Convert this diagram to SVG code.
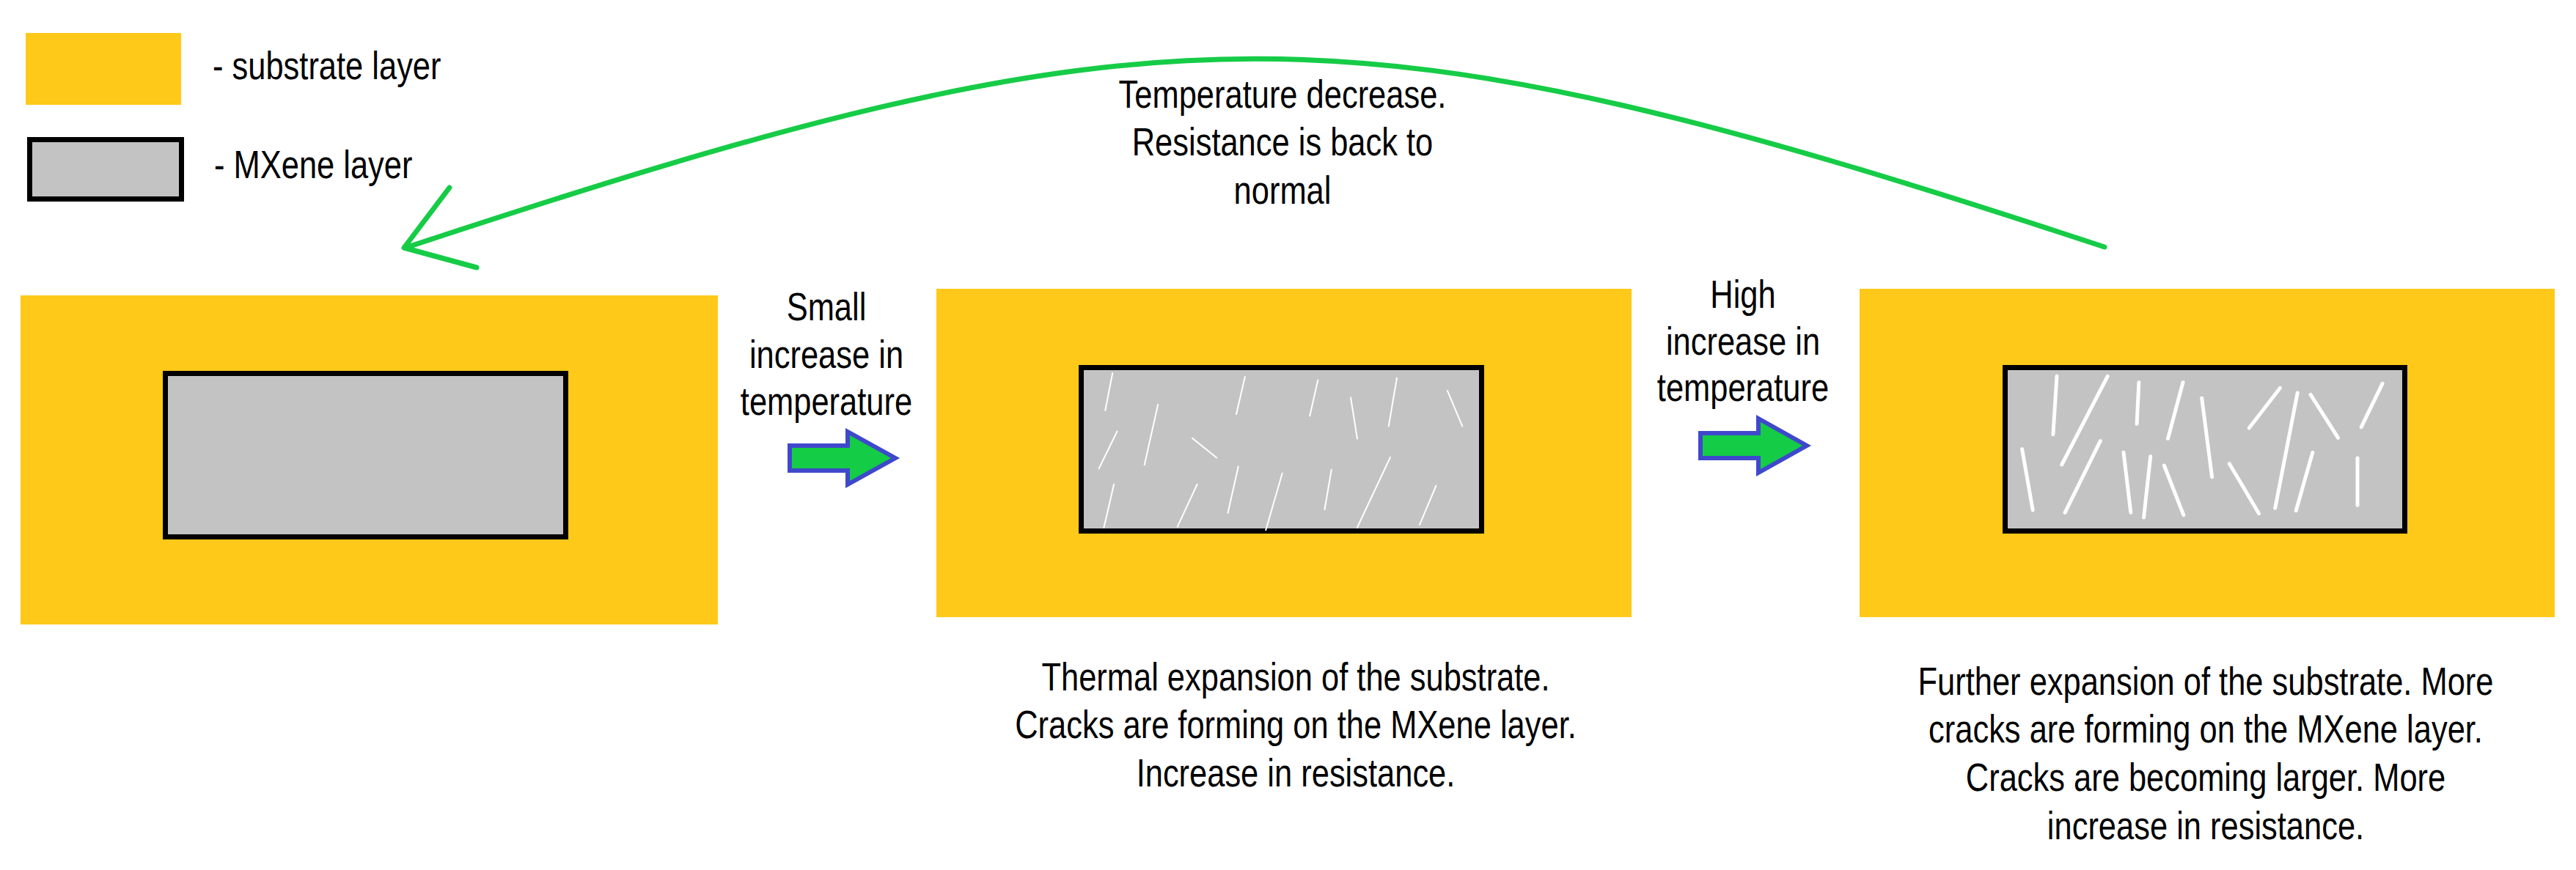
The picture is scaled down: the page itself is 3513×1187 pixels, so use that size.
<svg xmlns="http://www.w3.org/2000/svg" width="3513" height="1187" viewBox="0 0 3513 1187">
<defs>
<style>
.sub{fill:#fec918}
.mx{fill:#c3c3c3;stroke:#000;stroke-width:7}
.t{font-family:"Liberation Sans",Arial,sans-serif;font-size:53px;fill:#000}
.c{text-anchor:middle}
.ck1{stroke:#fff;stroke-width:2;fill:none}
.ck2{stroke:#fff;stroke-width:5;stroke-linecap:round;fill:none}
.blk{fill:#14cc46;stroke:#3f48cc;stroke-width:6;stroke-linejoin:miter}
.ret{fill:none;stroke:#16cc47;stroke-width:7;stroke-linecap:round;stroke-linejoin:round}
</style>
</defs>
<rect width="3513" height="1187" fill="#fff"/>

<g id="legend">
<rect class="sub" x="35" y="45" width="212" height="98"/>
<rect class="mx" x="40.5" y="190.5" width="207" height="81"/>
<g transform="translate(290,0) scale(0.82,1)"><text class="t" x="0" y="108">- substrate layer</text></g>
<g transform="translate(292,0) scale(0.82,1)"><text class="t" x="0" y="243">- MXene layer</text></g>
</g>

<g id="state1">
<rect class="sub" x="28" y="403" width="951" height="449"/>
<rect class="mx" x="225.5" y="509.5" width="546" height="223"/>
</g>

<g id="state2">
<rect class="sub" x="1277" y="394" width="948" height="448"/>
<rect class="mx" x="1474.5" y="501.5" width="546" height="223"/>
<g class="ck1">
<line x1="1517.4" y1="508.3" x2="1507.1" y2="560.7"/>
<line x1="1579.4" y1="551" x2="1560.6" y2="635"/>
<line x1="1523.9" y1="587.7" x2="1498.3" y2="640"/>
<line x1="1625.3" y1="597.3" x2="1659.8" y2="625"/>
<line x1="1698" y1="513.3" x2="1685.8" y2="566"/>
<line x1="1797.5" y1="517.7" x2="1786" y2="568.3"/>
<line x1="1841.9" y1="541.7" x2="1851.1" y2="599.3"/>
<line x1="1905.1" y1="515" x2="1893.6" y2="582.3"/>
<line x1="1973.6" y1="532.3" x2="1994.6" y2="582.3"/>
<line x1="1519.3" y1="660" x2="1505.2" y2="720.7"/>
<line x1="1633" y1="660" x2="1605.4" y2="719.3"/>
<line x1="1688.9" y1="635.7" x2="1674.3" y2="700.7"/>
<line x1="1748.9" y1="645" x2="1726" y2="724"/>
<line x1="1815.9" y1="640" x2="1806.3" y2="696"/>
<line x1="1896.3" y1="623.3" x2="1850.4" y2="720.7"/>
<line x1="1958.7" y1="662" x2="1935.7" y2="716.7"/>
</g>
<g transform="translate(1767,0) scale(0.82,1)">
<text class="t c" x="0" y="942">Thermal expansion of the substrate.</text>
<text class="t c" x="0" y="1007">Cracks are forming on the MXene layer.</text>
<text class="t c" x="0" y="1073">Increase in resistance.</text>
</g>
</g>

<g id="state3">
<rect class="sub" x="2536" y="394" width="948" height="448"/>
<rect class="mx" x="2734.5" y="501.5" width="545" height="223"/>
<g class="ck2">
<line x1="2805" y1="513.3" x2="2799.9" y2="592.7"/>
<line x1="2874.2" y1="513.3" x2="2811.7" y2="634"/>
<line x1="2757.6" y1="612.7" x2="2772.2" y2="696"/>
<line x1="2864.3" y1="601.7" x2="2816.1" y2="699.3"/>
<line x1="2916.9" y1="521.7" x2="2914.1" y2="578.3"/>
<line x1="2977" y1="521.7" x2="2956.5" y2="598.3"/>
<line x1="2896" y1="617.3" x2="2905.8" y2="699.3"/>
<line x1="2932.7" y1="622.7" x2="2923.6" y2="706"/>
<line x1="2951.3" y1="635" x2="2977.8" y2="702.7"/>
<line x1="3002.7" y1="543.3" x2="3016.6" y2="650.7"/>
<line x1="3109.5" y1="529.3" x2="3067.2" y2="584"/>
<line x1="3133.2" y1="536" x2="3102.7" y2="693.3"/>
<line x1="3040.3" y1="632.7" x2="3080.6" y2="700.7"/>
<line x1="3151" y1="538.3" x2="3188.5" y2="597.3"/>
<line x1="3153.8" y1="617.3" x2="3131.2" y2="696.7"/>
<line x1="3249" y1="523.3" x2="3220.2" y2="582.7"/>
<line x1="3215" y1="625" x2="3215" y2="689.3"/>
</g>
<g transform="translate(3008,0) scale(0.82,1)">
<text class="t c" x="0" y="948">Further expansion of the substrate. More</text>
<text class="t c" x="0" y="1013">cracks are forming on the MXene layer.</text>
<text class="t c" x="0" y="1079">Cracks are becoming larger. More</text>
<text class="t c" x="0" y="1145">increase in resistance.</text>
</g>
</g>

<g id="connectors">
<g id="arrow1">
<polygon class="blk" points="1077,608 1156,608 1156,589 1221,625 1156,661 1156,642 1077,642"/>
<g transform="translate(1127,0) scale(0.82,1)">
<text class="t c" x="0" y="437">Small</text>
<text class="t c" x="0" y="502">increase in</text>
<text class="t c" x="0" y="566">temperature</text>
</g>
</g>
<g id="arrow2">
<polygon class="blk" points="2319,591 2398,591 2398,571 2464,608 2398,645 2398,625 2319,625"/>
<g transform="translate(2377,0) scale(0.82,1)">
<text class="t c" x="0" y="420">High</text>
<text class="t c" x="0" y="484">increase in</text>
<text class="t c" x="0" y="547">temperature</text>
</g>
</g>
<g id="return">
<path class="ret" d="M 2870 337 C 1830 -6, 1590 -5, 553 338"/>
<path class="ret" d="M 613 256 L 551 338 L 650 365"/>
<g transform="translate(1749,0) scale(0.82,1)">
<text class="t c" x="0" y="147">Temperature decrease.</text>
<text class="t c" x="0" y="212">Resistance is back to</text>
<text class="t c" x="0" y="278">normal</text>
</g>
</g>
</g>
</svg>
